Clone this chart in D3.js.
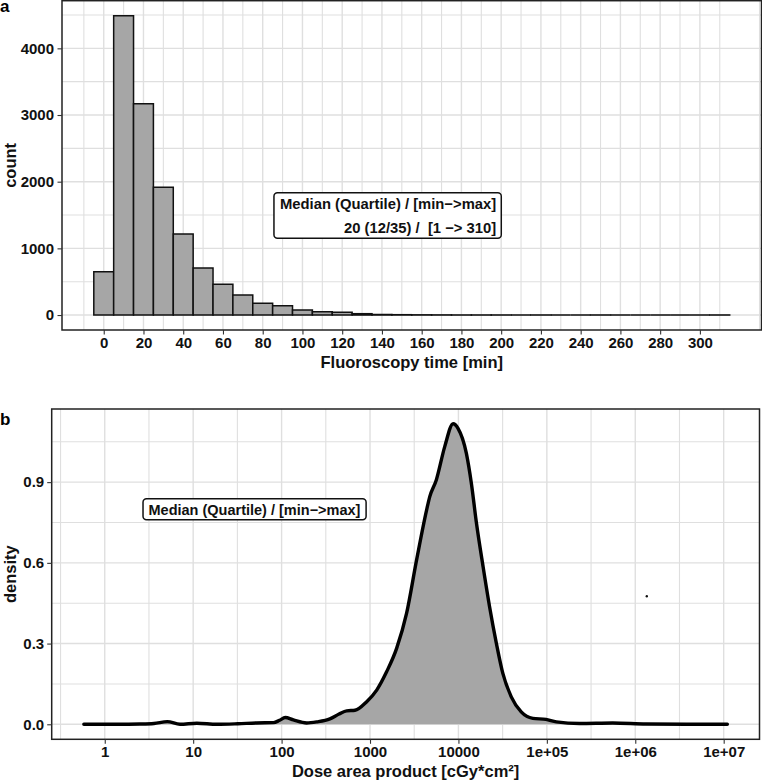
<!DOCTYPE html>
<html><head><meta charset="utf-8">
<script src="https://cdn.jsdelivr.net/npm/d3@7"></script>
<style>
body{margin:0;background:#fff;}
text{font-family:"Liberation Sans",Arial,sans-serif;}
</style></head>
<body>
<svg id="c" width="762" height="781"></svg>
<script>
// ---- Panel a data: fluoroscopy time histogram (bin width 10 min, centres) ----
const binCenters = [0,10,20,30,40,50,60,70,80,90,100,110,120,130,140,150,160,170,180,190,200,210,220,230,240,250,260,270,280,290,300,310];
const binCounts  = [650,4490,3170,1915,1215,705,460,300,175,140,75,50,40,20,8,5,3,2,1,1,1,0,1,0,0,1,0,0,0,0,0,1];
const xTicksA = [0,20,40,60,80,100,120,140,160,180,200,220,240,260,280,300];
const yTicksA = [0,1000,2000,3000,4000];

// ---- Panel b data: density of dose area product (log10 x scale) ----
const dose    = [0.58,1.38,2.5,3.6,5.1,7.1,11,18.6,32,52,81,95,110,136,192,250,352,447,545,676,912,1190,1540,2000,2590,3360,4370,4740,5620,7000,8710,9890,12300,14000,16000,19000,22500,26900,31800,39600,51300,69500,97700,128000,234000,556000,1320000,4000000,11000000];
const density = [0,0,0.001,0.003,0.01,0,0.004,0,0.002,0.005,0.006,0.015,0.025,0.016,0.005,0.009,0.02,0.038,0.05,0.052,0.083,0.127,0.195,0.282,0.412,0.61,0.797,0.846,0.908,1.032,1.117,1.10,1.007,0.896,0.747,0.586,0.437,0.30,0.189,0.102,0.046,0.022,0.018,0.009,0.003,0.005,0.001,0,0];
const xTicksB = [1,10,100,1000,10000,1e5,1e6,1e7];
const xTickLabelsB = ["1","10","100","1000","10000","1e+05","1e+06","1e+07"];
const yTicksB = [0,0.3,0.6,0.9];
const strayPoint = [[1350000,0.476]];

const svg = d3.select("#c");
const GRID = "#dfdfdf";

function drawGrid(g, x, y, xt, yt, left, right, top, bottom, minorX, minorY){
  g.append("g").selectAll("line").data(minorY).join("line")
    .attr("x1",left).attr("x2",right).attr("y1",d=>y(d)).attr("y2",d=>y(d))
    .attr("stroke",GRID).attr("stroke-width",1.1);
  g.append("g").selectAll("line").data(minorX).join("line")
    .attr("y1",top).attr("y2",bottom).attr("x1",d=>x(d)).attr("x2",d=>x(d))
    .attr("stroke",GRID).attr("stroke-width",1.1);
  g.append("g").selectAll("line").data(yt).join("line")
    .attr("x1",left).attr("x2",right).attr("y1",d=>y(d)).attr("y2",d=>y(d))
    .attr("stroke",GRID).attr("stroke-width",1.4);
  g.append("g").selectAll("line").data(xt).join("line")
    .attr("y1",top).attr("y2",bottom).attr("x1",d=>x(d)).attr("x2",d=>x(d))
    .attr("stroke",GRID).attr("stroke-width",1.4);
}
function styleAxis(sel){
  sel.select(".domain").remove();
  sel.selectAll(".tick line").attr("stroke","#333").attr("stroke-width",1.1);
  sel.selectAll(".tick text").attr("fill","#111").attr("font-size","15px").attr("font-weight","bold");
}

// ================= Panel a =================
{
  const L=62, R=761.5, T=0.7, B=330;
  const x = d3.scaleLinear().domain([-21,331]).range([L,R]);
  const y = d3.scaleLinear().domain([-224.5,4714.5]).range([B,T]);
  const g = svg.append("g");
  const minorX = d3.range(-20,331,10).filter(v=>v%20!==0);
  const minorY = [500,1500,2500,3500,4500];
  drawGrid(g,x,y,xTicksA,yTicksA,L,R,T,B,minorX,minorY);

  g.append("g").selectAll("path").data(binCenters.map((c,i)=>({c,n:binCounts[i]}))).join("path")
    .attr("d",d=>`M${x(d.c-5)},${y(0)}V${y(d.n)}H${x(d.c+5)}V${y(0)}Z`)
    .attr("fill","#a6a6a6").attr("stroke","#111").attr("stroke-width",1.5).attr("stroke-linejoin","miter");

  g.append("rect").attr("x",L).attr("y",T).attr("width",R-L).attr("height",B-T)
    .attr("fill","none").attr("stroke","#222").attr("stroke-width",1.5);

  const ax = g.append("g").attr("transform",`translate(0,${B})`)
    .call(d3.axisBottom(x).tickValues(xTicksA).tickSize(4.5).tickPadding(2.5).tickFormat(d3.format("d")));
  styleAxis(ax);
  const ay = g.append("g").attr("transform",`translate(${L},0)`)
    .call(d3.axisLeft(y).tickValues(yTicksA).tickSize(4.5).tickPadding(3.5).tickFormat(d3.format("d")));
  styleAxis(ay);

  g.append("text").attr("x",(L+R)/2).attr("y",368).attr("text-anchor","middle")
    .attr("font-size","16.5px").attr("font-weight","bold").attr("fill","#111").text("Fluoroscopy time [min]");
  g.append("text").attr("transform",`translate(16,${(T+B)/2}) rotate(-90)`).attr("text-anchor","middle")
    .attr("font-size","16.5px").attr("font-weight","bold").attr("fill","#111").text("count");
  g.append("text").attr("x",0).attr("y",12).attr("font-size","17px").attr("font-weight","bold").text("a");

  // annotation label
  const ex = x(197.5), b1 = y(1585), b2 = b1+24;
  const lab = g.append("g");
  const rect = lab.append("rect");
  const t = lab.append("text").attr("text-anchor","end").attr("font-size","14.8px").attr("font-weight","bold")
    .attr("fill","#111").style("white-space","pre");
  t.append("tspan").attr("x",ex).attr("y",b1).text("Median (Quartile) / [min\u2212>max]");
  t.append("tspan").attr("x",ex).attr("y",b2).text("20 (12/35) /  [1 \u2212> 310]");
  const bb = t.node().getBBox();
  rect.attr("x",bb.x-6).attr("y",b1-16.5).attr("width",bb.width+11).attr("height",(b2+5)-(b1-16.5))
    .attr("rx",3.5).attr("fill","#fff").attr("stroke","#111").attr("stroke-width",1.5);
}

// ================= Panel b =================
{
  const L=51.7, R=759.5, T=409, B=739.3;
  const x = d3.scaleLog().domain([Math.pow(10,-0.6),Math.pow(10,7.405)]).range([L,R]);
  const y = d3.scaleLinear().domain([-0.0558,1.1718]).range([B,T]);
  const g = svg.append("g");
  const minorX = [-0.5,0.5,1.5,2.5,3.5,4.5,5.5,6.5].map(v=>Math.pow(10,v));
  const minorY = [0.15,0.45,0.75,1.05];
  drawGrid(g,x,y,xTicksB,yTicksB,L,R,T,B,minorX,minorY);

  const pts = dose.map((d,i)=>[d,density[i]]);
  g.append("path").datum(pts)
    .attr("d",d3.area().x(d=>x(d[0])).y0(y(0)).y1(d=>y(d[1])).curve(d3.curveMonotoneX))
    .attr("fill","#a6a6a6");
  g.append("path").datum(pts)
    .attr("d",d3.line().x(d=>x(d[0])).y(d=>y(d[1])).curve(d3.curveMonotoneX))
    .attr("fill","none").attr("stroke","#000").attr("stroke-width",3.4).attr("stroke-linejoin","round").attr("stroke-linecap","round");

  g.append("g").selectAll("circle").data(strayPoint).join("circle")
    .attr("cx",d=>x(d[0])).attr("cy",d=>y(d[1])).attr("r",1.2).attr("fill","#111");

  g.append("rect").attr("x",L).attr("y",T).attr("width",R-L).attr("height",B-T)
    .attr("fill","none").attr("stroke","#222").attr("stroke-width",1.5);

  const ax = g.append("g").attr("transform",`translate(0,${B})`)
    .call(d3.axisBottom(x).tickValues(xTicksB).tickSize(4.5).tickPadding(2.5).tickFormat((d,i)=>xTickLabelsB[i]));
  styleAxis(ax);
  const ay = g.append("g").attr("transform",`translate(${L},0)`)
    .call(d3.axisLeft(y).tickValues(yTicksB).tickSize(4.5).tickPadding(3).tickFormat(d3.format(".1f")));
  styleAxis(ay);

  g.append("text").attr("x",(L+R)/2).attr("y",777).attr("text-anchor","middle")
    .attr("font-size","16.5px").attr("font-weight","bold").attr("fill","#111").text("Dose area product [cGy*cm\u00b2]");
  g.append("text").attr("transform",`translate(16,${(T+B)/2}) rotate(-90)`).attr("text-anchor","middle")
    .attr("font-size","16.5px").attr("font-weight","bold").attr("fill","#111").text("density");
  g.append("text").attr("x",0).attr("y",425).attr("font-size","17px").attr("font-weight","bold").text("b");

  const sx = x(Math.pow(10,0.495)), b1 = y(0.776);
  const lab = g.append("g");
  const rect = lab.append("rect");
  const t = lab.append("text").attr("x",sx).attr("y",b1).attr("font-size","14.5px").attr("font-weight","bold")
    .attr("fill","#111").text("Median (Quartile) / [min\u2212>max]");
  const bb = t.node().getBBox();
  rect.attr("x",bb.x-5.5).attr("y",b1-16.7).attr("width",bb.width+11).attr("height",21)
    .attr("rx",3.5).attr("fill","#fff").attr("stroke","#111").attr("stroke-width",1.5);
}
</script>
</body></html>
